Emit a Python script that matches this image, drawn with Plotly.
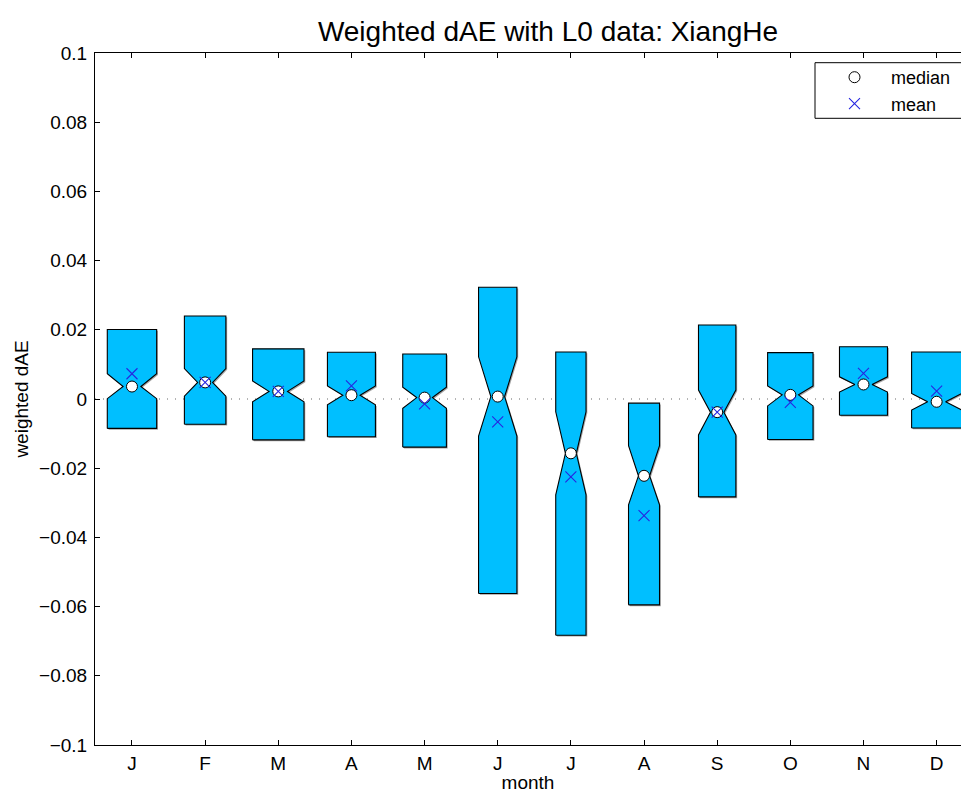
import plotly.graph_objects as go

# ---- data ----
months = ["J", "F", "M", "A", "M", "J", "J", "A", "S", "O", "N", "D"]
positions = [1, 2, 3, 4, 5, 6, 7, 8, 9, 10, 11, 12]
q3 = [0.0201, 0.0240, 0.0145, 0.0135, 0.0130, 0.0323, 0.0136, -0.0012, 0.0214, 0.0134, 0.0151, 0.0136]
q1 = [-0.0085, -0.0073, -0.0118, -0.0109, -0.0139, -0.0562, -0.0683, -0.0595, -0.0283, -0.0117, -0.0047, -0.0084]
medians = [0.0036, 0.0048, 0.0022, 0.0011, 0.0004, 0.0007, -0.0157, -0.0222, -0.0038, 0.0012, 0.0042, -0.0008]
means = [0.0073, 0.0048, 0.0022, 0.0038, -0.0014, -0.0066, -0.0225, -0.0337, -0.0038, -0.0010, 0.0074, 0.0023]
notch_lo = [0.0001, 0.0008, -0.0008, -0.0017, -0.0027, -0.0107, -0.0277, -0.0306, -0.0104, -0.0020, 0.0020, -0.0032]
notch_hi = [0.0073, 0.0088, 0.0052, 0.0038, 0.0034, 0.0122, -0.0037, -0.0135, 0.0026, 0.0038, 0.0064, 0.0016]
box_widths = [0.675, 0.567, 0.703, 0.656, 0.597, 0.524, 0.414, 0.424, 0.511, 0.621, 0.656, 0.684]
ytick_vals = [-0.1, -0.08, -0.06, -0.04, -0.02, 0, 0.02, 0.04, 0.06, 0.08, 0.1]
ytick_text = ["\u22120.1", "\u22120.08", "\u22120.06", "\u22120.04", "\u22120.02", "0",
              "0.02", "0.04", "0.06", "0.08", "0.1"]

# ---- style ----
FONT = "Liberation Sans, Arial, Helvetica, sans-serif"
BOX_FILL = "#00BFFF"
NOTCH_RATIO = 0.36  # inner width at the median relative to box width
W, H = 961, 793
ML, MR, MT, MB = 95, 0, 53, 48
PX_PER_X = 73.15
X0 = 0.5 - 0.4 / PX_PER_X
X1 = X0 + (W - ML - MR) / PX_PER_X
Y0, Y1 = -0.1, 0.1
PX_PER_Y = (H - MT - MB) / (Y1 - Y0)

fig = go.Figure()

def outline(c, w, lo, hi, nl, nh, md, dx=0.0, dy=0.0):
    hw = w / 2
    iw = hw * NOTCH_RATIO
    xs = [c - hw, c - hw, c - iw, c - hw, c - hw, c + hw, c + hw, c + iw, c + hw, c + hw, c - hw]
    ys = [lo, nl, md, nh, hi, hi, nh, md, nl, lo, lo]
    return [x + dx for x in xs], [y + dy for y in ys]

# subtle shadow like the MATLAB render
for c, w, lo, hi, nl, nh, md in zip(positions, box_widths, q1, q3, notch_lo, notch_hi, medians):
    xs, ys = outline(c, w, lo, hi, nl, nh, md, dx=1.3 / PX_PER_X, dy=-1.3 / PX_PER_Y)
    fig.add_trace(go.Scatter(x=xs, y=ys, mode="lines", fill="toself",
                             fillcolor="rgba(90,90,90,0.55)", line=dict(width=0),
                             hoverinfo="skip", showlegend=False))

for c, w, lo, hi, nl, nh, md in zip(positions, box_widths, q1, q3, notch_lo, notch_hi, medians):
    xs, ys = outline(c, w, lo, hi, nl, nh, md)
    fig.add_trace(go.Scatter(x=xs, y=ys, mode="lines", fill="toself",
                             fillcolor=BOX_FILL, line=dict(color="black", width=1.1),
                             hoverinfo="skip", showlegend=False))

fig.add_trace(go.Scatter(x=positions, y=medians, mode="markers", name="median",
                         marker=dict(symbol="circle", size=11, color="white",
                                     line=dict(color="black", width=1))))
fig.add_trace(go.Scatter(x=positions, y=means, mode="markers", name="mean",
                         marker=dict(symbol="x-thin", size=11, color="#2626e0",
                                     line=dict(color="#2626e0", width=1.1))))

# zero dotted reference line
fig.add_shape(type="line", xref="paper", yref="y", x0=0, x1=1, y0=0, y1=0,
              line=dict(color="#666666", width=1, dash="1px,7px"), layer="below")

# legend frame (extends past the right edge like the reference)
lg_left = (815 - ML) / (W - ML - MR)
lg_top = 1 - (62.7 - MT) / (H - MT - MB)
lg_bot = 1 - (118.3 - MT) / (H - MT - MB)
fig.add_shape(type="rect", xref="paper", yref="paper", x0=lg_left, x1=1.2,
              y0=lg_bot, y1=lg_top, line=dict(color="black", width=1),
              fillcolor="rgba(0,0,0,0)", layer="above")

fig.update_layout(
    width=W, height=H,
    margin=dict(l=ML, r=MR, t=MT, b=MB),
    paper_bgcolor="white", plot_bgcolor="white",
    font=dict(family=FONT, size=19, color="black"),
    title=dict(text="Weighted dAE with L0 data: XiangHe", font=dict(size=28, family=FONT),
               x=548 / W, xref="container", xanchor="center",
               y=1 - 31 / H, yref="container", yanchor="middle"),
    showlegend=True,
    legend=dict(x=(818 - ML) / (W - ML - MR), y=1 - (59 - MT) / (H - MT - MB),
                xanchor="left", yanchor="top",
                bgcolor="rgba(0,0,0,0)", borderwidth=0, itemwidth=63,
                font=dict(size=18, family=FONT), tracegroupgap=0),
    xaxis=dict(range=[X0, X1], tickmode="array", tickvals=positions, ticktext=months,
               ticks="inside", ticklen=5, tickcolor="black", tickwidth=1,
               showline=True, linecolor="black", linewidth=1, mirror="ticks",
               showgrid=False, zeroline=False, ticklabelstandoff=1,
               title=dict(text="month", standoff=1, font=dict(size=19))),
    yaxis=dict(range=[Y0, Y1], tickmode="array", tickvals=ytick_vals, ticktext=ytick_text,
               ticks="inside", ticklen=5, tickcolor="black", tickwidth=1,
               showline=True, linecolor="black", linewidth=1, mirror=False,
               showgrid=False, zeroline=False, ticklabelstandoff=3,
               title=dict(text="weighted dAE", standoff=5, font=dict(size=19))),
)

fig.write_html("out.html", config={"displayModeBar": False},
               post_script="document.body.style.margin='0px';document.body.style.overflow='hidden';")
